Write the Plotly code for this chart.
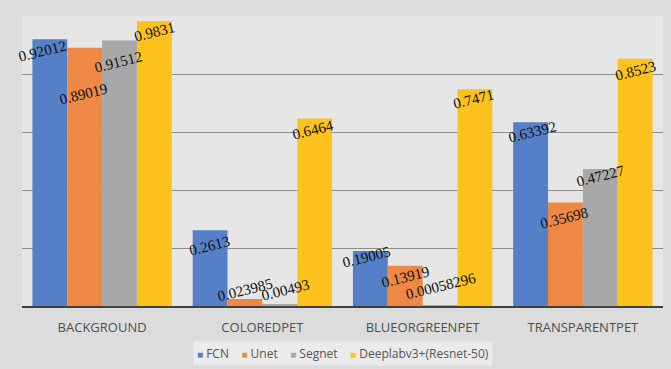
import plotly.graph_objects as go

# Segmentation accuracy per class for four networks
categories = ["BACKGROUND", "COLOREDPET", "BLUEORGREENPET", "TRANSPARENTPET"]
series_names = ["FCN", "Unet", "Segnet", "Deeplabv3+(Resnet-50)"]
fcn = [0.92012, 0.2613, 0.19005, 0.63392]
unet = [0.89019, 0.023985, 0.13919, 0.35698]
segnet = [0.91512, 0.00493, 0.00058296, 0.47227]
deeplab = [0.9831, 0.6464, 0.7471, 0.8523]
series_values = [fcn, unet, segnet, deeplab]

colors = ["#5580C8", "#EE8844", "#A8A8A8", "#FDC21E"]

# per-label nudges (px) for the rotated value labels: (dx right, dy down)
label_nudge = [
    [(-7, 12), (-1, 16), (-4, 6), (2, 10)],
    [(-1, 46), (0, -9), (0, 11), (-1, 16)],
    [(-1, 21), (6, -15), (1, -20), (0, 7)],
    [(0, 11), (-2, 11), (-1, 10), (0, 12)],
]

BARGAP = 0.13
n_series = len(series_values)
bar_w = (1 - BARGAP) / n_series

fig = go.Figure()
for name, vals, col in zip(series_names, series_values, colors):
    fig.add_trace(go.Bar(x=categories, y=vals, name=name,
                         marker=dict(color=col, line=dict(width=0)), showlegend=False))

annotations = []
for si, vals in enumerate(series_values):
    for ci, v in enumerate(vals):
        dx, dy = label_nudge[si][ci]
        annotations.append(dict(
            x=ci + (si - (n_series - 1) / 2) * bar_w, y=v, xref="x", yref="y",
            text=repr(v), showarrow=False, textangle=-14,
            xanchor="center", yanchor="middle", xshift=dx, yshift=-dy,
            font=dict(family="Liberation Serif, Times New Roman, serif", size=15, color="#111111"),
        ))

# legend drawn as a single text row with coloured squares
sep = "\u00a0" * 4
legend_text = sep.join(
    f'<span style="color:{c};font-size:10px">■</span>\u00a0{n}' for n, c in zip(series_names, colors)
)
annotations.append(dict(
    x=0.5, y=-0.164, xref="paper", yref="paper", xanchor="center", yanchor="middle",
    text=legend_text, showarrow=False, bgcolor="#ebebeb", borderpad=3,
    font=dict(family="Open Sans, sans-serif", size=12, color="#555555"),
))

L, R, T, B = 22, 8, 16, 63
W, H = 671, 369

fig.update_layout(
    width=W, height=H,
    margin=dict(l=L, r=R, t=T, b=B, pad=0, autoexpand=False),
    paper_bgcolor="#dcdcdc", plot_bgcolor="#e6e6e6",
    barmode="group", bargap=BARGAP, bargroupgap=0,
    annotations=annotations,
    xaxis=dict(range=[-0.5, len(categories) - 0.5], automargin=False,
               showgrid=False, showline=True, linecolor="#404040", linewidth=2,
               ticks="outside", ticklen=8, tickcolor="rgba(0,0,0,0)",
               tickfont=dict(family="Open Sans, sans-serif", size=13, color="#4f4f4f")),
    yaxis=dict(range=[0, 1], dtick=0.2, automargin=False, showgrid=True, gridcolor="#8c8c8c",
               gridwidth=1, showticklabels=False, zeroline=False, showline=False),
)

fig.write_html("out.html")
